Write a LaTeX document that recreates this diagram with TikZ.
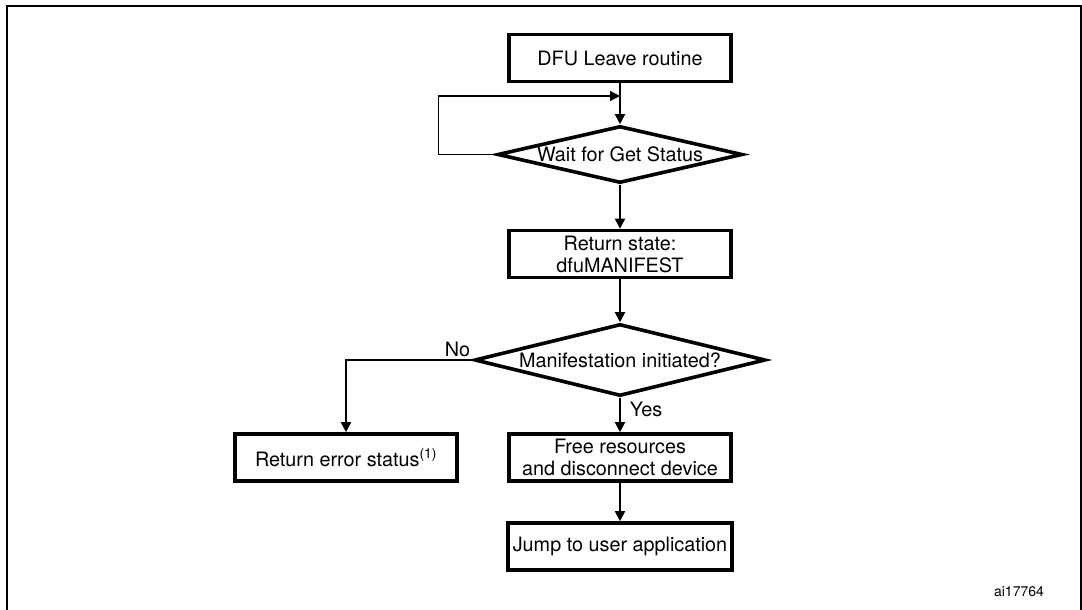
\documentclass[tikz,border=0pt]{standalone}
\usepackage{fontspec}
\setmainfont{TeX Gyre Heros}
\usetikzlibrary{shapes.geometric,arrows.meta}

\tikzstyle{block} = [draw, rectangle, line width=3.6pt, inner sep=0pt,
                     minimum height=47pt, minimum width=222pt, align=center]
\tikzstyle{decision} = [draw, diamond, line width=3.6pt, inner sep=0pt]
\tikzstyle{flow} = [->, line width=1.8pt]

\begin{document}
\begin{tikzpicture} [auto, x=1pt, y=-1pt, node distance=100pt,
                     >={Triangle[length=10pt,width=10pt]},
                     font=\fontsize{19.8}{22}\selectfont]

\useasboundingbox (0,0) rectangle (1082,610);

% frame
\draw[line width=2.2pt] (7,610) -- (7,6) -- (1081,6) -- (1081,610);

\node[block]
      at (620,58)
      (leave) {DFU Leave routine};

\node[decision,
      below of=leave,node distance=96.5pt,
      minimum width=245pt,minimum height=57pt,aspect=4]
      (wait) {Wait for Get Status};

\coordinate[below of=leave,node distance=38pt] (back);

\node[block,
      below of=wait,node distance=99.5pt]
      (state) {Return state:\\dfuMANIFEST};

\node[decision,
      below of=state,node distance=106pt,
      minimum width=291pt,minimum height=72pt,aspect=3.8]
      (manif) {Manifestation initiated?};

\node[block,
      below of=manif,node distance=97.5pt]
      (free) {Free resources\\and disconnect device};

\node[block,
      below of=free,node distance=89pt,
      minimum width=224pt]
      (jump) {Jump to user application};

\node[block,
      left of=free,node distance=274pt]
      (err) {Return error status\textsuperscript{(1)}};

\node[font=\fontsize{14}{16}\selectfont]
      at (1019,592)
      (id) {ai17764};

\draw[flow]
     (leave.south) -- (wait.north);

\draw[flow,line width=1.4pt]
     (wait.west) -- ++(-57,0) |- (back);

\draw[flow]
     (wait.south) -- (state.north);

\draw[flow]
     (state.south) -- (manif.north);

\draw[flow]
     (manif.south)
      -- node[pos=0.33,right,inner sep=9pt]{Yes}
     (free.north);

\draw[flow]
     (manif.west)
      -| node[pos=0.06,above,inner sep=2pt]{No}
     (err.north);

\draw[flow]
     (free.south) -- (jump.north);

\end{tikzpicture}
\end{document}
